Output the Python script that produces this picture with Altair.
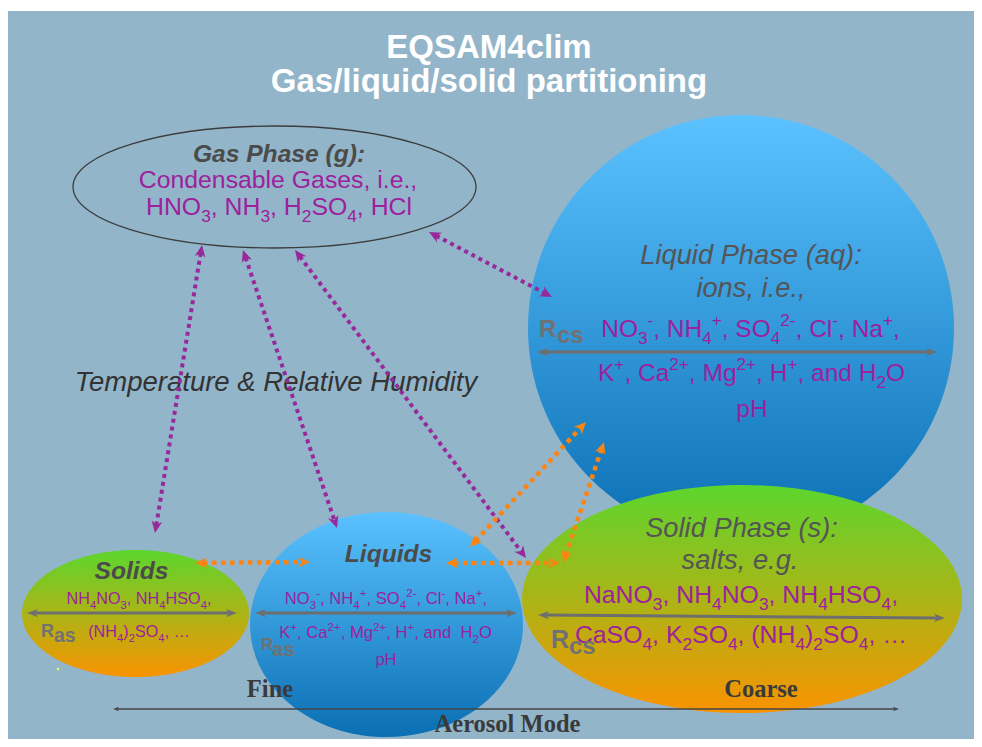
import math
import altair as alt
import pandas as pd

W, H = 966, 731          # whole chart (page starts at 8,8)
X0, Y0 = 8, 8

# ---------------- data ----------------
title_lines = ["EQSAM4clim", "Gas/liquid/solid partitioning"]
title_x = [489, 489]
title_y = [58, 92]

# ellipses (centre / radii in picture pixels)
ell_names = ["Liquid Phase", "Solid Phase", "Solids", "Liquids", "Gas Phase"]
ell_cx = [741, 742, 135.5, 386.5, 274.5]
ell_cy = [328, 599, 613.5, 624.5, 187]
ell_rx = [213, 220, 113.5, 136.5, 201.5]
ell_ry = [213, 114, 63.5, 112.5, 61]

# purple text lines with _sub and ^sup markup
chem_text = ["Condensable Gases, i.e.,", "HNO_3, NH_3, H_2SO_4, HCl",
             "NO_3^-, NH_4^+, SO_4^{2-}, Cl^-, Na^+,", "K^+, Ca^{2+}, Mg^{2+}, H^+, and H_2O", "pH",
             "NH_4NO_3, NH_4HSO_4,", "(NH_4)_2SO_4, \u2026",
             "NO_3^-, NH_4^+, SO_4^{2-}, Cl^-, Na^+,", "K^+, Ca^{2+}, Mg^{2+}, H^+, and\u00a0 H_2O", "pH",
             "NaNO_3, NH_4NO_3, NH_4HSO_4,", "CaSO_4, K_2SO_4, (NH_4)_2SO_4, \u2026"]
chem_x = [278, 279, 750.5, 751.5, 752, 139, 139, 386, 385.5, 386, 741, 741]
chem_y = [188, 215, 337, 381, 417, 604, 637, 604, 638, 665, 603, 643]
chem_size = [24.8, 24.8, 24.5, 24.5, 24.5, 16.2, 16.2, 16.6, 16.6, 16.6, 24.8, 24.8]

head_bi_text = ["Gas Phase (g):", "Liquids", "Solids"]
head_bi_x = [279, 388.5, 131.5]
head_bi_y = [162, 562, 579]

head_i_text = ["Liquid Phase (aq):", "ions, i.e.,", "Solid Phase (s):", "salts, e.g."]
head_i_x = [751, 751, 741.5, 740]
head_i_y = [264, 297, 537, 569]

trh_text = ["Temperature & Relative Humidity"]
trh_x = [276]
trh_y = [391]

mode_text = ["Fine", "Coarse", "Aerosol Mode"]
mode_x = [270, 761, 507.5]
mode_y = [697, 697, 732]

r_text = ["R", "R", "R", "R"]
r_x = [539, 41, 261, 551]
r_y = [337, 637, 650, 648]
r_size = [24, 18, 17, 25]
rsub_text = ["cs", "as", "as", "cs"]
rsub_x = [557, 54, 272, 569]
rsub_y = [343, 642, 656, 654]
rsub_size = [24, 19.5, 20.5, 24]

# double arrows (tip to tip)
grey_arrows = [(537, 352, 937, 352), (27, 613, 237, 613), (255, 613, 517, 613), (538, 615, 945, 618)]
mode_arrow = [(113, 709, 899, 709)]
purple_arrows = [(202, 245, 155, 533), (243, 250, 337, 528), (295, 250, 526, 558), (429, 232, 552, 297)]
orange_arrows = [(195, 563, 310, 562), (446, 563, 560, 563), (470, 547, 586, 422), (563, 563, 604, 442)]

frame = [(8, 8, 974, 11)]
speck = [(58, 669)]

# ---------------- helpers ----------------
AW = {' ': 278, '\u00a0': 278, '(': 333, ')': 333, '+': 584, ',': 278, '-': 333, '.': 278, ':': 278,
      '0': 556, '1': 556, '2': 556, '3': 556, '4': 556, '\u2026': 1000,
      'A': 667, 'C': 722, 'G': 778, 'H': 722, 'K': 667, 'M': 833, 'N': 722, 'O': 778, 'S': 667,
      'a': 556, 'b': 556, 'c': 500, 'd': 556, 'e': 556, 'g': 556, 'i': 222, 'l': 222, 'n': 556,
      'p': 556, 's': 500}


def parse(s):
    runs, buf, i = [], "", 0
    while i < len(s):
        c = s[i]
        if c in "_^":
            if buf:
                runs.append((buf, "n"))
                buf = ""
            kind = "sub" if c == "_" else "sup"
            if s[i + 1] == "{":
                j = s.index("}", i)
                runs.append((s[i + 2:j], kind))
                i = j + 1
            else:
                runs.append((s[i + 1], kind))
                i += 2
        else:
            buf += c
            i += 1
    if buf:
        runs.append((buf, "n"))
    return runs


def layout_runs(texts, xs, ys, sizes):
    rows = []
    for t, cx, by, s in zip(texts, xs, ys, sizes):
        runs = parse(t)
        widths = []
        for r, k in runs:
            fs = s if k == "n" else 0.7 * s
            widths.append(sum(AW.get(ch, 556) for ch in r) * fs / 1000.0)
        x = cx - sum(widths) / 2.0
        for (r, k), w in zip(runs, widths):
            fs = s if k == "n" else 0.7 * s
            yy = by + (0.28 * s if k == "sub" else (-0.45 * s if k == "sup" else 0))
            rows.append({"x": x, "y": yy, "t": r, "fs": fs})
            x += w
    return pd.DataFrame(rows)


def arrow_frames(segs, shorten):
    lines, heads = [], []
    for (x1, y1, x2, y2) in segs:
        dx, dy = x2 - x1, y2 - y1
        L = math.hypot(dx, dy)
        ux, uy = dx / L, dy / L
        lines.append({"x": x1 + ux * shorten, "y": y1 + uy * shorten,
                      "x2": x2 - ux * shorten, "y2": y2 - uy * shorten})
        heads.append({"x": x2, "y": y2, "ang": math.degrees(math.atan2(ux, -uy)) % 360})
        heads.append({"x": x1, "y": y1, "ang": math.degrees(math.atan2(-ux, uy)) % 360})
    return pd.DataFrame(lines), pd.DataFrame(heads)


XS = alt.Scale(domain=[X0, X0 + W], nice=False, zero=False)
YS = alt.Scale(domain=[Y0, Y0 + H], nice=False, zero=False, reverse=True)


def enc_xy():
    return dict(x=alt.X("x:Q", scale=XS, axis=None), y=alt.Y("y:Q", scale=YS, axis=None))


FONT = "Liberation Sans"
SERIF = "Liberation Serif"
PURPLE = "#9d219d"
ARROW_PURPLE = "#97299a"
ORANGE = "#fb8412"
GREY = "#6e6e6e"
STEALTH = "M0 0 L0.9 2 L0 1.4 L-0.9 2 Z"
STEALTH_G = "M0 0 L0.75 2 L0 1.45 L-0.75 2 Z"

green_grad = alt.Gradient(gradient="linear", x1=0, x2=0, y1=0, y2=1,
                          stops=[alt.GradientStop(color="#5cd62e", offset=0),
                                 alt.GradientStop(color="#f99300", offset=1)])
blue_grad = alt.Gradient(gradient="linear", x1=0, x2=0, y1=0, y2=1,
                         stops=[alt.GradientStop(color="#5bc2ff", offset=0),
                                alt.GradientStop(color="#0a6fb3", offset=1)])


def ellipse_layer(i, fill=None, stroke=None):
    k = ell_ry[i] / ell_rx[i]
    path = f"M-1 0 A1 {k:.5f} 0 1 0 1 0 A1 {k:.5f} 0 1 0 -1 0 Z"
    df = pd.DataFrame({"x": [ell_cx[i]], "y": [ell_cy[i]], "name": [ell_names[i]]})
    size = 4 * ell_rx[i] ** 2
    if fill is not None:
        m = alt.Chart(df).mark_point(shape=path, size=size, filled=True, fill=fill,
                                     opacity=1, strokeWidth=0)
    else:
        m = alt.Chart(df).mark_point(shape=path, size=size, filled=False, stroke=stroke,
                                     strokeWidth=1.3, opacity=1)
    return m.encode(**enc_xy())


def text_layer(texts, xs, ys, **kw):
    df = pd.DataFrame({"x": xs, "y": ys, "t": texts})
    return alt.Chart(df).mark_text(baseline="alphabetic", **kw).encode(text="t:N", **enc_xy())


def runs_layer(df, **kw):
    return alt.Chart(df).mark_text(align="left", baseline="alphabetic", **kw).encode(
        text="t:N", size=alt.Size("fs:Q", scale=None), **enc_xy())


def arrow_layers(segs, color, width, dash, shorten, head_path, head_size):
    lines, heads = arrow_frames(segs, shorten)
    rk = dict(color=color, strokeWidth=width)
    if dash:
        rk["strokeDash"] = dash
    rule = alt.Chart(lines).mark_rule(**rk).encode(
        x2="x2:Q", y2="y2:Q", **enc_xy())
    hd = alt.Chart(heads).mark_point(shape=head_path, size=head_size, filled=True, fill=color,
                                     opacity=1, strokeWidth=0).encode(
        angle=alt.Angle("ang:Q", scale=None), **enc_xy())
    return [rule, hd]


# ---------------- layers ----------------
layers = []
fr = pd.DataFrame([{"x": a, "y": b, "x2": c, "y2": d} for a, b, c, d in frame])
layers.append(alt.Chart(fr).mark_rect(color="white").encode(x2="x2:Q", y2="y2:Q", **enc_xy()))

layers.append(ellipse_layer(0, fill=blue_grad))
layers.append(ellipse_layer(1, fill=green_grad))
layers.append(ellipse_layer(2, fill=green_grad))
layers.append(ellipse_layer(3, fill=blue_grad))
layers.append(ellipse_layer(4, stroke="#3c3c3c"))

sp = pd.DataFrame([{"x": a, "y": b} for a, b in speck])
layers.append(alt.Chart(sp).mark_square(size=5, color="#f6f64c", opacity=1).encode(**enc_xy()))

layers += arrow_layers(grey_arrows, GREY, 3, None, 6, STEALTH_G, 121)
layers += arrow_layers(mode_arrow, "#454545", 1.5, None, 3, STEALTH_G, 36)

layers.append(text_layer(title_lines, title_x, title_y, align="center", font=FONT, fontSize=33,
                         fontWeight="bold", color="white"))
layers.append(text_layer(head_bi_text, head_bi_x, head_bi_y, align="center", font=FONT, fontSize=24.6,
                         fontWeight="bold", fontStyle="italic", color="#4b4b4b"))
layers.append(text_layer(head_i_text, head_i_x, head_i_y, align="center", font=FONT, fontSize=27.3,
                         fontStyle="italic", color="#555555"))
layers.append(text_layer(trh_text, trh_x, trh_y, align="center", font=FONT, fontSize=27.5,
                         fontStyle="italic", color="#333333"))
layers.append(text_layer(mode_text, mode_x, mode_y, align="center", font=SERIF, fontSize=24.5,
                         fontWeight="bold", color="#3a3a3a"))
layers.append(runs_layer(layout_runs(chem_text, chem_x, chem_y, chem_size), font=FONT, color=PURPLE))

rdf = pd.DataFrame({"x": r_x + rsub_x, "y": r_y + rsub_y, "t": r_text + rsub_text, "fs": r_size + rsub_size})
layers.append(runs_layer(rdf, font=FONT, fontWeight="bold", color="#717171"))

layers += arrow_layers(purple_arrows, ARROW_PURPLE, 4, [4, 4], 8, STEALTH, 144)
layers += arrow_layers(orange_arrows, ORANGE, 4.5, [4.5, 4.5], 8, STEALTH, 144)

chart = alt.layer(*layers).properties(
    width=W, height=H, padding=0, background="#92b5ca",
    autosize=alt.AutoSizeParams(type="fit", contains="padding"),
).configure_view(strokeWidth=0)

chart.save("out.html", embed_options={"renderer": "svg", "actions": False})
